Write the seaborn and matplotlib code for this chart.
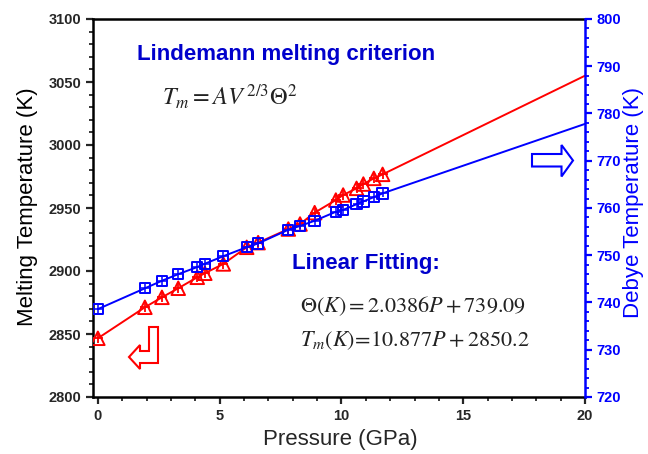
import numpy as np
import pandas as pd
import matplotlib
matplotlib.use('Agg')
from matplotlib import pyplot as plt
from matplotlib.patches import Polygon
from matplotlib.ticker import MultipleLocator
import seaborn as sns

# values
pressure = [0.0, 1.93, 2.63, 3.30, 4.08, 4.39, 5.15, 6.11, 6.58, 7.82, 8.30, 8.90,
            9.77, 10.07, 10.62, 10.90, 11.33, 11.69]
tm = [2846.6, 2871.2, 2879.1, 2886.3, 2895.0, 2898.2, 2905.6, 2918.8, 2922.5, 2933.3,
      2937.3, 2946.3, 2956.3, 2960.3, 2965.6, 2969.0, 2973.5, 2976.7]
theta = [738.6, 743.0, 744.6, 746.0, 747.5, 748.2, 749.8, 751.7, 752.5, 755.4,
         756.2, 757.3, 759.2, 759.6, 760.8, 761.4, 762.3, 763.1]
# where the extrapolated lines end
p_end = 20
tm_end = 3055
theta_end = 777.8

sns.set_style('ticks')
plt.rcParams['font.family'] = ['Liberation Sans', 'DejaVu Sans']
plt.rcParams['mathtext.fontset'] = 'stix'

fig = plt.figure(figsize=(6.48, 4.54), dpi=100)
ax = fig.add_axes([93/648, 1-397/454, 492/648, 378/454])
ax2 = ax.twinx()

# melting temperature (left axis)
sns.lineplot(x=pressure + [p_end], y=tm + [tm_end], ax=ax, color='red', lw=1.4,
             sort=False, estimator=None)
sns.scatterplot(x=pressure, y=tm, ax=ax, marker='^', s=95, facecolors='none',
                edgecolor='red', linewidth=1.4, zorder=3)
sns.scatterplot(x=pressure, y=tm, ax=ax, marker='+', s=55, color='red',
                linewidth=1.3, zorder=3)

# Debye temperature (right axis)
sns.lineplot(x=pressure + [p_end], y=theta + [theta_end], ax=ax2, color='blue', lw=1.4,
             sort=False, estimator=None)
sns.scatterplot(x=pressure, y=theta, ax=ax2, marker='s', s=55, facecolors='none',
                edgecolor='blue', linewidth=1.4, zorder=3)
sns.scatterplot(x=pressure, y=theta, ax=ax2, marker='+', s=32, color='blue',
                linewidth=1.1, zorder=3)

ax.set_xlim(-0.2, 20)
ax.set_ylim(2800, 3100)
ax2.set_ylim(720, 800)

ax.set_xticks([0, 5, 10, 15, 20])
ax.xaxis.set_minor_locator(MultipleLocator(1))
ax.set_yticks(np.arange(2800, 3101, 50))
ax.yaxis.set_minor_locator(MultipleLocator(10))
ax2.set_yticks(np.arange(720, 801, 10))
ax2.yaxis.set_minor_locator(MultipleLocator(2))

ax.tick_params(which='major', direction='out', length=5, width=1.6, labelsize=10.5, top=False)
ax.tick_params(which='minor', direction='out', length=3, width=1.3, top=False)
ax2.tick_params(which='major', direction='out', length=5, width=1.6, labelsize=10.5,
                colors='blue')
ax2.tick_params(which='minor', direction='out', length=3, width=1.3, colors='blue')
plt.setp(ax.get_xticklabels() + ax.get_yticklabels() + ax2.get_yticklabels(), fontweight='bold')

for s in ['left', 'bottom', 'top']:
    ax.spines[s].set_linewidth(1.8)
    ax.spines[s].set_color('black')
ax.spines['right'].set_visible(False)
for s in ['left', 'bottom', 'top']:
    ax2.spines[s].set_visible(False)
ax2.spines['right'].set_linewidth(1.8)
ax2.spines['right'].set_color('blue')
ax.set_xlabel('')
ax.set_ylabel('')
ax2.set_ylabel('')

fig.text(28/648, 1-207/454, 'Melting Temperature (K)', rotation=90, ha='center', va='center',
         fontsize=16, color='black')
fig.text(633/648, 1-202/454, 'Debye Temperature (K)', rotation=90, ha='center', va='center',
         fontsize=16, color='blue')
fig.text(340/648, 1-440/454, 'Pressure (GPa)', ha='center', va='center', fontsize=16)

# annotations
ax.text(0.089, 0.905, 'Lindemann melting criterion', transform=ax.transAxes, color='#0000cc',
        fontsize=16, fontweight='bold', va='center')
ax.text(0.140, 0.796, r'$T_m = AV^{\,2/3}\Theta^2$', transform=ax.transAxes, fontsize=17.5,
        color='#222222', va='center')
ax.text(0.404, 0.354, 'Linear Fitting:', transform=ax.transAxes, color='#0000cc',
        fontsize=16, fontweight='bold', va='center')
ax.text(0.421, 0.241, r'$\Theta(K) = 2.0386P + 739.09$', transform=ax.transAxes, fontsize=16,
        color='#222222', va='center')
ax.text(0.421, 0.148, r'$T_m(K)\!=\!10.877P + 2850.2$', transform=ax.transAxes, fontsize=16,
        color='#222222', va='center')

# hollow arrows pointing to the relevant axis
def frac(px, py):
    return ((px - 93) / 492, (397 - py) / 378)

red_arrow = [frac(129, 357), frac(140, 345), frac(140, 351), frac(149, 351), frac(149, 327),
             frac(158, 327), frac(158, 363), frac(140, 363), frac(140, 369)]
blue_arrow = [frac(532, 154), frac(561.5, 154), frac(561.5, 145), frac(573, 160.5),
              frac(561.5, 176.5), frac(561.5, 166.5), frac(532, 166.5)]
ax.add_patch(Polygon(red_arrow, closed=True, fill=False, edgecolor='red', lw=1.5,
                     transform=ax.transAxes, clip_on=False))
ax.add_patch(Polygon(blue_arrow, closed=True, fill=False, edgecolor='blue', lw=1.5,
                     transform=ax.transAxes, clip_on=False))

plt.savefig('out.png', dpi=100)
